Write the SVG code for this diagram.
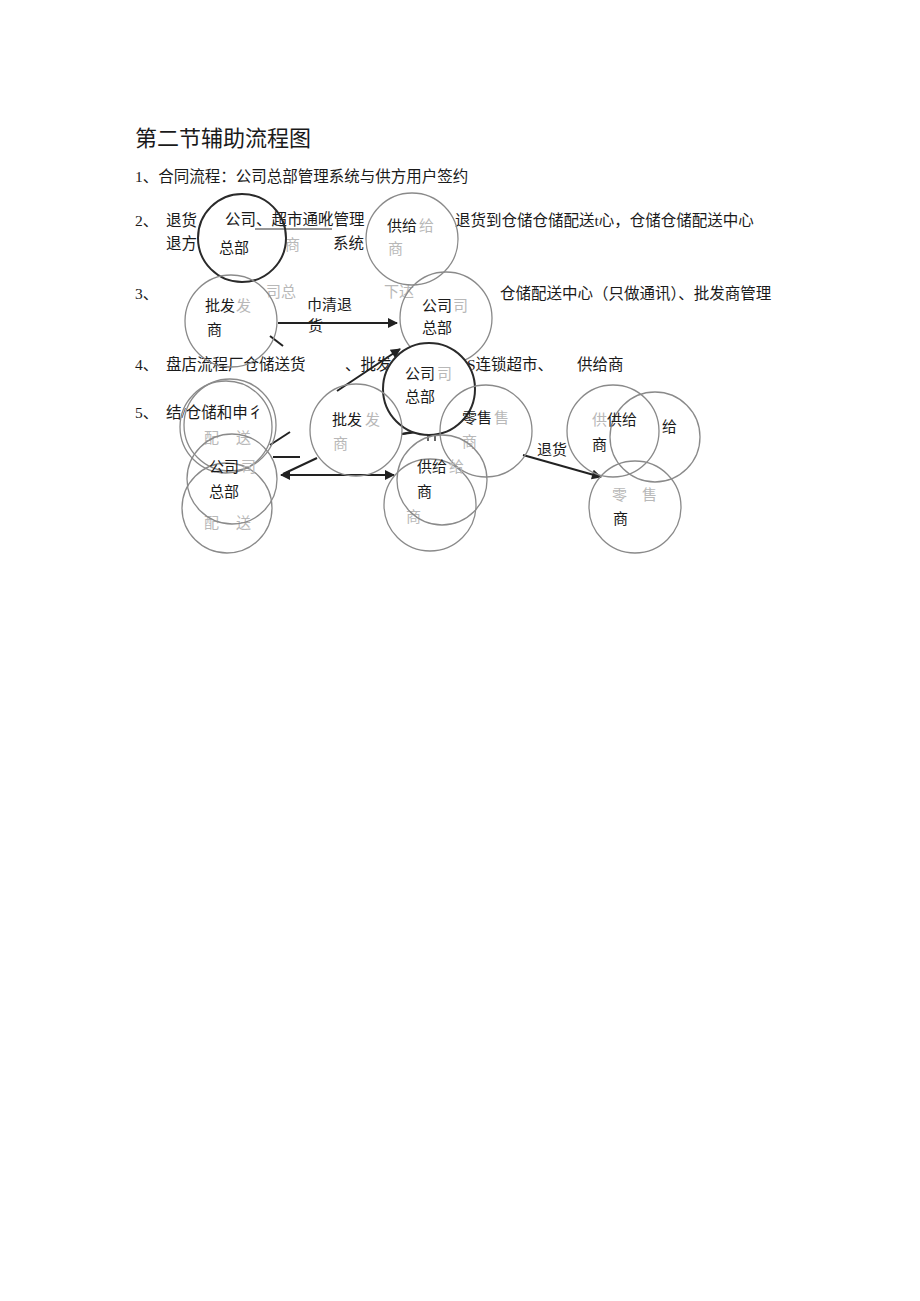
<svg xmlns="http://www.w3.org/2000/svg" width="920" height="1301" viewBox="0 0 920 1301">
<defs>
<style>
.t{font-family:"Liberation Serif","Noto Sans CJK SC",serif;font-size:15.5px;fill:#1a1a1a}
.h{font-family:"Liberation Serif","Noto Sans CJK SC",serif;font-size:22px;fill:#1a1a1a}
.c{font-family:"Noto Sans CJK SC",sans-serif;font-size:15px;fill:#1a1a1a}
.f{font-family:"Noto Sans CJK SC",sans-serif;font-size:15px;fill:#b8b8b8}
.n{fill:none;stroke:#8a8a8a;stroke-width:1.3}
.d{fill:none;stroke:#2a2a2a;stroke-width:2}
.l{stroke:#222;stroke-width:2;fill:none}
</style>
<marker id="ahb" viewBox="0 0 10 10" refX="9" refY="5" markerWidth="12" markerHeight="10" orient="auto-start-reverse" markerUnits="userSpaceOnUse">
<path d="M0,0 L10,5 L0,10 z" fill="#222"/>
</marker>
</defs>
<rect width="920" height="1301" fill="#ffffff"/>

<g id="body-text">
<text class="h" x="135" y="146">第二节辅助流程图</text>
<text class="t" x="135" y="182">1、合同流程：公司总部管理系统与供方用户签约</text>
<text class="t" x="135" y="226">2、</text>
<text class="t" x="166" y="226">退货</text>
<text class="t" x="225" y="225">公司、超市通吪管理</text>
<line x1="255" y1="229" x2="332" y2="229" stroke="#333" stroke-width="1.2"/>
<text class="t" x="455" y="226">退货到仓储仓储配送t心，仓储仓储配送中心</text>
<text class="t" x="166" y="249">退方</text>
<text class="t" x="333" y="249">系统</text>
<text class="t" x="135" y="299">3、</text>
<text class="t" x="500" y="299">仓储配送中心（只做通讯）、批发商管理</text>
<text class="t" x="135" y="370">4、</text>
<text class="t" x="166" y="370">盘店流程厂仓储送货</text>
<text class="t" x="345" y="370">、批发</text>
<text class="t" x="467" y="370">S连锁超市、</text>
<text class="t" x="577" y="370">供给商</text>
<text class="t" x="135" y="418">5、</text>
<text class="t" x="166" y="418">结/仓储和申彳</text>
</g>

<g id="faded-text">
<text class="f" x="266" y="297">司总</text>
<text class="f" x="384" y="297">下达</text>
<text class="f" x="285" y="250">商</text>
</g>

<g id="connectors">
<line class="l" x1="278" y1="323" x2="397" y2="323" marker-end="url(#ahb)"/>
<line class="l" x1="337" y1="391" x2="400" y2="349" marker-end="url(#ahb)"/>
<line class="l" x1="281" y1="475" x2="394" y2="475" marker-start="url(#ahb)" marker-end="url(#ahb)"/>
<line class="l" x1="317" y1="458" x2="283" y2="474"/>
<line class="l" x1="270" y1="445" x2="290" y2="432"/>
<line class="l" x1="273" y1="457" x2="300" y2="457"/>
<line class="l" x1="270" y1="336" x2="283" y2="346"/>
<line class="l" x1="402" y1="434" x2="441" y2="426"/>
<line class="l" x1="402" y1="434" x2="441" y2="429"/>
<line x1="428" y1="428" x2="428" y2="441" stroke="#333" stroke-width="1.5"/>
<line x1="435" y1="428" x2="435" y2="441" stroke="#333" stroke-width="1.5"/>
<line class="l" x1="523" y1="455" x2="601" y2="477" marker-end="url(#ahb)"/>
<text class="c" x="307" y="310">巾清退</text>
<text class="c" x="308" y="331">货</text>
<text class="c" x="537" y="455">退货</text>
</g>

<g id="n1-gongsi-zongbu-top">
<circle class="d" cx="242" cy="238" r="44"/>
<text class="c" x="219" y="253">总部</text>
</g>
<g id="n2-gongji-shang-top">
<circle class="n" cx="412" cy="239" r="46"/>
<text class="c" x="387" y="231">供给</text>
<text class="f" x="419" y="231">给</text>
<text class="f" x="388" y="254">商</text>
</g>
<g id="n3-pifa-shang">
<circle class="n" cx="231" cy="321" r="46"/>
<text class="c" x="205" y="311">批发</text>
<text class="f" x="236" y="311">发</text>
<text class="c" x="207" y="335">商</text>
</g>
<g id="n4-gongsi-zongbu">
<circle class="n" cx="446" cy="318" r="46"/>
<text class="c" x="422" y="311">公司</text>
<text class="f" x="453" y="311">司</text>
<text class="c" x="422" y="333">总部</text>
</g>
<g id="n5-gongsi-zongbu">
<circle cx="429" cy="389" r="46" fill="#ffffff" stroke="#2a2a2a" stroke-width="2"/>
<text class="c" x="405" y="379">公司</text>
<text class="f" x="437" y="379">司</text>
<text class="c" x="405" y="402">总部</text>
</g>
<g id="n6-pifa-shang">
<circle class="n" cx="356" cy="430" r="46"/>
<text class="c" x="332" y="425">批发</text>
<text class="f" x="365" y="425">发</text>
<text class="f" x="333" y="449">商</text>
</g>
<g id="n7-lingshou-shang">
<circle class="n" cx="486" cy="431" r="46"/>
<text class="c" x="462" y="423">零售</text>
<text class="f" x="494" y="423">售</text>
<text class="f" x="462" y="447">商</text>
</g>
<g id="n9-back-shang">
<circle class="n" cx="430" cy="505" r="46"/>
<text class="f" x="406" y="522">商</text>
</g>
<g id="n8-gongji-shang">
<circle class="n" cx="442" cy="480" r="45"/>
<text class="c" x="417" y="472">供给</text>
<text class="f" x="449" y="472">给</text>
<text class="c" x="417" y="497">商</text>
</g>
<g id="n10-peisong-back">
<circle class="n" cx="226" cy="427" r="46"/>
<circle class="n" cx="230" cy="425" r="46"/>
<text class="f" x="204" y="443">配</text>
<text class="f" x="236" y="443">送</text>
</g>
<g id="n12-peisong-back">
<circle class="n" cx="227" cy="508" r="45"/>
<text class="f" x="204" y="528">配</text>
<text class="f" x="236" y="528">送</text>
</g>
<g id="n11-gongsi-zongbu-left">
<circle class="n" cx="232" cy="479" r="45"/>
<text class="c" x="209" y="472">公司</text>
<text class="f" x="241" y="472">司</text>
<text class="c" x="209" y="497">总部</text>
</g>
<g id="n13-gei-back">
<circle class="n" cx="655" cy="437" r="45"/>
<text class="c" x="662" y="432">给</text>
</g>
<g id="n14-gongji-shang-right">
<circle class="n" cx="613" cy="431" r="46"/>
<text class="f" x="592" y="425">供</text>
<text class="c" x="607" y="425">供给</text>
<text class="c" x="592" y="450">商</text>
</g>
<g id="n15-lingshou-shang-right">
<circle class="n" cx="635" cy="507" r="46"/>
<text class="f" x="612" y="500">零</text>
<text class="f" x="642" y="500">售</text>
<text class="c" x="613" y="524">商</text>
</g>
</svg>
